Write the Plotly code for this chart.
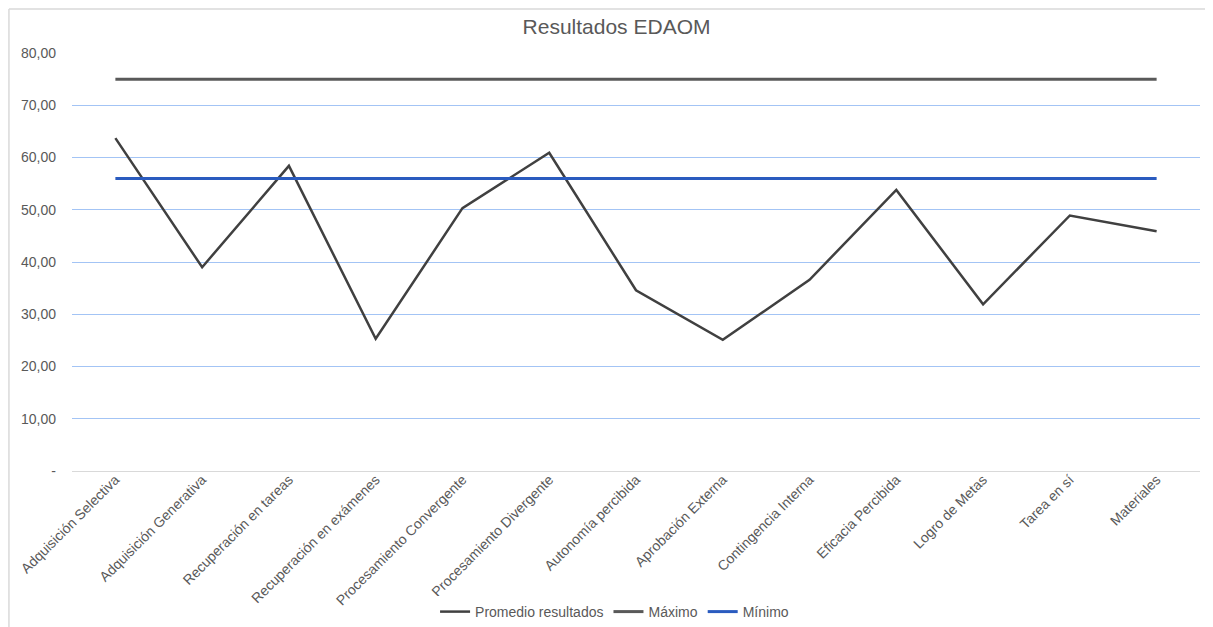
import plotly.graph_objects as go

categories = ["Adquisición Selectiva", "Adquisición Generativa", "Recuperación en tareas",
              "Recuperación en exámenes", "Procesamiento Convergente", "Procesamiento Divergente",
              "Autonomía percibida", "Aprobación Externa", "Contingencia Interna",
              "Eficacia Percibida", "Logro de Metas", "Tarea en sí", "Materiales"]
promedio = [63.7, 39.0, 58.4, 25.3, 50.3, 60.9, 34.6, 25.1, 36.6, 53.8, 31.9, 48.9, 45.9]
maximo = [75.0] * len(categories)
minimo = [56.0] * len(categories)
ytick_vals = [0, 10, 20, 30, 40, 50, 60, 70, 80]
ytick_text = ["-", "10,00", "20,00", "30,00", "40,00", "50,00", "60,00", "70,00", "80,00"]

font_family = "Liberation Sans, Arial, sans-serif"
gray = "#595959"

W, H = 1205, 619

fig = go.Figure()
fig.add_trace(go.Scatter(x=categories, y=promedio, mode="lines", name="Promedio resultados",
                         line=dict(color="#404040", width=2.5)))
fig.add_trace(go.Scatter(x=categories, y=maximo, mode="lines", name="Máximo",
                         line=dict(color="#595959", width=3)))
fig.add_trace(go.Scatter(x=categories, y=minimo, mode="lines", name="Mínimo",
                         line=dict(color="#2a5bbf", width=3)))

border = dict(color="#d9d9d9", width=1.5)
fig.update_layout(
    width=W, height=H,
    margin=dict(l=64, r=13, t=45, b=156, autoexpand=False),
    paper_bgcolor="white", plot_bgcolor="white",
    font=dict(family=font_family, color=gray, size=14),
    title=dict(text="Resultados EDAOM", x=0.505, xanchor="center",
               yref="container", y=1 - 19 / H, yanchor="middle",
               font=dict(size=21, color=gray, family=font_family)),
    showlegend=True,
    legend=dict(orientation="h", x=0.481, xanchor="center",
                yref="container", y=1 - 604 / H, yanchor="middle",
                font=dict(size=14, color=gray), itemwidth=30, tracegroupgap=0),
    xaxis=dict(type="category", range=[-0.5, 12.5], tickangle=-45, showgrid=False,
               showline=True, linecolor="#d9d9d9", linewidth=1, ticks="", automargin=False,
               ticklabelstandoff=-6,
               tickfont=dict(size=14, color=gray)),
    yaxis=dict(range=[0, 80], tickvals=ytick_vals, ticktext=ytick_text,
               showgrid=True, gridcolor="#a3c4f5", gridwidth=1, zeroline=False,
               showline=False, ticks="", ticklabelstandoff=15, automargin=False,
               tickfont=dict(size=14, color=gray)),
    shapes=[
        dict(type="line", xref="paper", yref="paper", x0=-0.0559, x1=-0.0559, y0=-0.38, y1=1.105,
             line=border, layer="below"),
        dict(type="line", xref="paper", yref="paper", x0=-0.0559, x1=1.02, y0=1.105, y1=1.105,
             line=border, layer="below"),
    ],
)

fig.write_html("out.html")
